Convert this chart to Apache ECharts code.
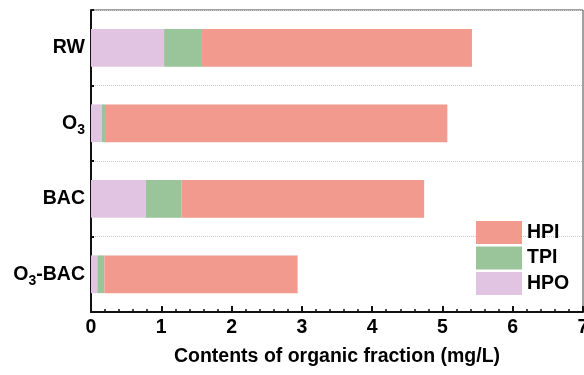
<!DOCTYPE html>
<html>
<head>
<meta charset="utf-8">
<script src="https://cdn.jsdelivr.net/npm/echarts@6/dist/echarts.min.js"></script>
<style>html,body{margin:0;padding:0;background:#fff}#c{width:584px;height:375px}</style>
</head>
<body>
<div id="c"></div>
<script>
const categories = ['RW', 'O3', 'BAC', 'O3-BAC'];
const hpo = [1.04, 0.15, 0.78, 0.09];
const tpi = [0.54, 0.05, 0.51, 0.10];
const hpi = [3.84, 4.87, 3.45, 2.75];
const xTicks = [0, 1, 2, 3, 4, 5, 6, 7];
const xTitle = 'Contents of organic fraction (mg/L)';

const FONT = 'Arial, "Liberation Sans", sans-serif';
const chart = echarts.init(document.getElementById('c'));
const colors = { HPI: '#F29A8D', TPI: '#9AC49A', HPO: '#E0C4E2' };

function bar(name, data) {
  return {
    name, type: 'bar', stack: 'total', data, barWidth: '50%',
    itemStyle: { color: colors[name] }
  };
}

chart.setOption({
  animation: false,
  grid: { left: 91, top: 10, right: 1, bottom: 63, show: true, borderColor: '#444', borderWidth: 1, backgroundColor: 'transparent', outerBoundsMode: 'none', containLabel: false },
  legend: {
    orient: 'vertical', left: 471, top: 216,
    itemWidth: 46, itemHeight: 23, itemGap: 2.5, icon: 'rect',
    data: ['HPI', 'TPI', 'HPO'],
    textStyle: { fontSize: 19.5, fontWeight: 'bold', color: '#000', fontFamily: FONT },
    selectedMode: false
  },
  xAxis: {
    type: 'value', min: xTicks[0], max: xTicks[xTicks.length - 1], interval: 1,
    axisLine: { show: true, lineStyle: { color: '#111', width: 2 } },
    axisTick: { show: true, inside: true, length: 6, lineStyle: { color: '#111', width: 2 } },
    minorTick: { show: true, splitNumber: 5, length: 3, lineStyle: { color: '#111', width: 1.5 } },
    splitLine: { show: false },
    axisLabel: { fontSize: 19.5, fontWeight: 'bold', color: '#000', margin: 6, fontFamily: FONT, showMaxLabel: true },
    name: xTitle, nameLocation: 'middle', nameGap: 35,
    nameTextStyle: { fontSize: 19.5, fontWeight: 'bold', color: '#000', fontFamily: FONT }
  },
  yAxis: {
    type: 'category', data: categories, inverse: true,
    axisLine: { show: true, lineStyle: { color: '#111', width: 2 } },
    axisTick: { show: true, inside: true, length: 3, lineStyle: { color: '#111', width: 2 } },
    splitLine: { show: true, lineStyle: { color: '#ccc', type: 'dotted', width: 1 } },
    axisLabel: {
      margin: 6, fontFamily: FONT, color: '#000', fontSize: 19.5, fontWeight: 'bold',
      formatter: v => v.replace(/O3/, '{b|O}{s|3}').replace(/^(?!\{)(.*)$/, '{b|$1}').replace(/(\{s\|3\})(-BAC)$/, '$1{b|$2}'),
      rich: {
        b: { fontSize: 19.5, fontWeight: 'bold', color: '#000', fontFamily: FONT },
        s: { fontSize: 14, fontWeight: 'bold', color: '#000', fontFamily: FONT, padding: [13, 0, 0, 0] }
      }
    }
  },
  series: [bar('HPO', hpo), bar('TPI', tpi), bar('HPI', hpi)]
});
</script>
</body>
</html>
